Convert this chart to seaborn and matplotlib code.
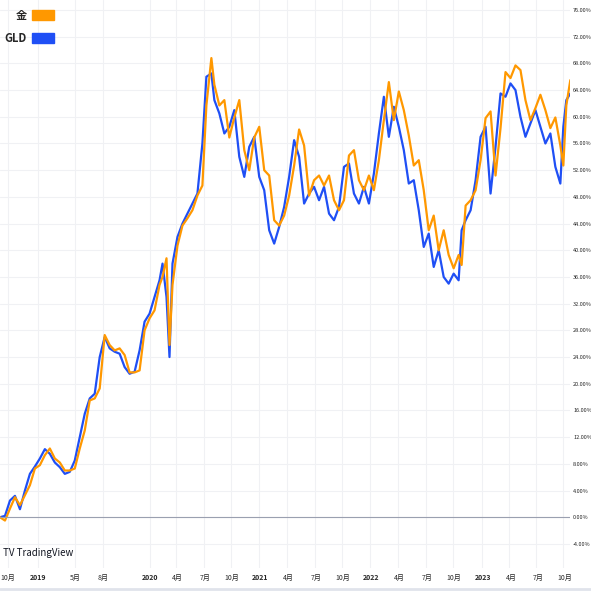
import numpy as np
import pandas as pd
import matplotlib
matplotlib.use("Agg")
import matplotlib.pyplot as plt
import seaborn as sns

# horizontal position (chart pixels) and percent change
xpos = [0, 5, 10, 15, 20, 25, 30, 35, 40, 45, 50, 55, 60, 65, 70, 75, 80, 85, 90, 95,
        100, 105, 110, 115, 120, 125, 130, 135, 140, 145, 150, 155, 160, 163, 167, 170, 173, 178, 183, 188,
        193, 198, 203, 207, 212, 215, 220, 225, 230, 235, 240, 245, 250, 255, 260, 265, 270, 275, 280, 285,
        290, 295, 300, 305, 310, 315, 320, 325, 330, 335, 340, 345, 350, 355, 360, 365, 370, 375, 380, 385,
        390, 395, 400, 405, 410, 415, 420, 425, 430, 435, 440, 445, 450, 455, 460, 463, 467, 472, 477, 482,
        487, 492, 497, 502, 507, 512, 517, 522, 527, 532, 537, 542, 547, 552, 557, 562, 565, 568, 572]
gold = [0, -0.5, 1.3, 3, 1.8, 3.3, 4.8, 7.3, 7.8, 9.3, 10.3, 8.8, 8.2, 7, 7, 7.3, 10.3, 13, 17.5, 17.8,
        19.3, 27.3, 25.8, 25, 25.3, 24.3, 21.7, 21.7, 22, 28, 29.8, 31, 34.8, 36, 38.8, 25.8, 34.8, 40.7, 43.7, 44.8,
        46, 48.2, 49.7, 61.7, 68.8, 64.8, 61.7, 62.5, 56.9, 59.9, 62.5, 55, 52, 56.9, 58.5, 52, 51.2, 44.5, 43.7, 45.2,
        48.2, 52.7, 58.1, 55.7, 48.2, 50.5, 51.2, 49.7, 51.2, 47.5, 46, 47.5, 54.2, 55, 50.5, 49, 51.2, 49, 53.5, 59.5,
        65.2, 59.5, 63.8, 61, 57.2, 52.7, 53.5, 49, 43, 45.2, 40, 43, 39.3, 37.3, 39.3, 37.8, 46.7, 47.5, 49, 53.5,
        59.8, 60.8, 51.2, 58.3, 66.7, 65.8, 67.7, 67, 62.5, 59.5, 61.3, 63.3, 61, 58.3, 59.9, 55.7, 52.7, 61.7, 65.5]
gld = [0, 0.2, 2.5, 3.2, 1.2, 4.0, 6.5, 7.6, 8.8, 10.2, 9.5, 8.2, 7.5, 6.5, 6.8, 8.5, 12.0, 15.5, 17.8, 18.5,
       24.0, 27.0, 25.3, 24.8, 24.5, 22.5, 21.5, 21.8, 25.0, 29.3, 30.5, 33.0, 35.5, 38.0, 33.0, 24.0, 38.0, 42.0, 44.0, 45.5,
       47.0, 48.5, 56.0, 66.0, 66.5, 62.5, 60.5, 57.5, 58.5, 61.0, 54.0, 51.0, 55.5, 57.0, 51.0, 49.0, 43.0, 41.0, 43.5, 46.5,
       51.0, 56.5, 54.0, 47.0, 48.5, 49.5, 47.5, 49.5, 45.5, 44.5, 46.5, 52.5, 53.0, 48.5, 47.0, 49.5, 47.0, 51.5, 57.5, 63.0,
       57.0, 61.5, 58.5, 55.0, 50.0, 50.5, 46.0, 40.5, 42.5, 37.5, 40.0, 36.0, 35.0, 36.5, 35.5, 43.0, 44.5, 46.0, 50.5, 57.0,
       58.5, 48.5, 55.5, 63.5, 63.0, 65.0, 64.0, 60.0, 57.0, 59.0, 61.0, 58.5, 56.0, 57.5, 52.5, 50.0, 58.5, 62.5, 63.5]

tick_pos = [8, 38, 75, 103, 150, 177, 205, 232, 260, 288, 316, 343, 371, 399, 427, 454, 483, 511, 538, 565]
tick_lab = ["10月", "2019", "5月", "8月", "2020", "4月", "7月", "10月", "2021", "4月", "7月", "10月",
            "2022", "4月", "7月", "10月", "2023", "4月", "7月", "10月"]
bold_years = {"2019", "2020", "2021", "2022", "2023"}
y_ticks = list(range(-4, 77, 4))

sns.set_theme(style="white")
plt.rcParams['font.family'] = ['Noto Sans CJK JP', 'DejaVu Sans']

df = pd.DataFrame({"x": xpos * 2, "pct": gold + gld, "series": ["金"] * len(xpos) + ["GLD"] * len(xpos)})

fig = plt.figure(figsize=(5.91, 5.91), dpi=100)
ax = fig.add_axes([0, 0.039, 0.965, 0.961])
sns.lineplot(data=df[df.series == "GLD"], x="x", y="pct", color="#1f4ff5", lw=1.6, ax=ax, legend=False)
sns.lineplot(data=df[df.series == "金"], x="x", y="pct", color="#ff9800", lw=1.6, ax=ax, legend=False)

ax.set_xlim(0, 572)
ax.set_ylim(-7.6, 77.5)
ax.axhline(0, color="#9aa0b0", lw=0.8)
for p in tick_pos:
    ax.axvline(p, color="#f0f1f4", lw=0.8, zorder=0)
for v in y_ticks:
    ax.axhline(v, color="#f0f1f4", lw=0.8, zorder=0)

ax.yaxis.tick_right()
ax.set_yticks(y_ticks)
ax.set_yticklabels([f"{v:.2f}%" for v in y_ticks], fontsize=4)
ax.tick_params(axis="y", length=0, pad=2)
ax.set_xticks([])
ax.set_xlabel("")
ax.set_ylabel("")
for s in ax.spines.values():
    s.set_visible(False)

for p, lab in zip(tick_pos, tick_lab):
    fig.text(p / 591, 1 - 578 / 591, lab, fontsize=5, ha="center", va="center",
             fontweight="bold" if lab in bold_years else "normal")
fig.add_artist(plt.Line2D([0, 1], [1 - 589 / 591] * 2, color="#e0e3eb", lw=2))

fig.text(3 / 591, 1 - 553 / 591, "TV TradingView", fontsize=7, va="center", color="#131722")

# legend boxes
fig.text(27 / 591, 1 - 15 / 591, "金", fontsize=8, ha="right", va="center", fontweight="bold")
fig.text(27 / 591, 1 - 38 / 591, "GLD", fontsize=8, ha="right", va="center", fontweight="bold")
fig.patches.append(plt.Rectangle((32 / 591, 1 - 20 / 591), 22 / 591, 10 / 591, color="#ff9800", transform=fig.transFigure))
fig.patches.append(plt.Rectangle((32 / 591, 1 - 43 / 591), 22 / 591, 10 / 591, color="#1f4ff5", transform=fig.transFigure))

fig.savefig("out.png", dpi=100)
